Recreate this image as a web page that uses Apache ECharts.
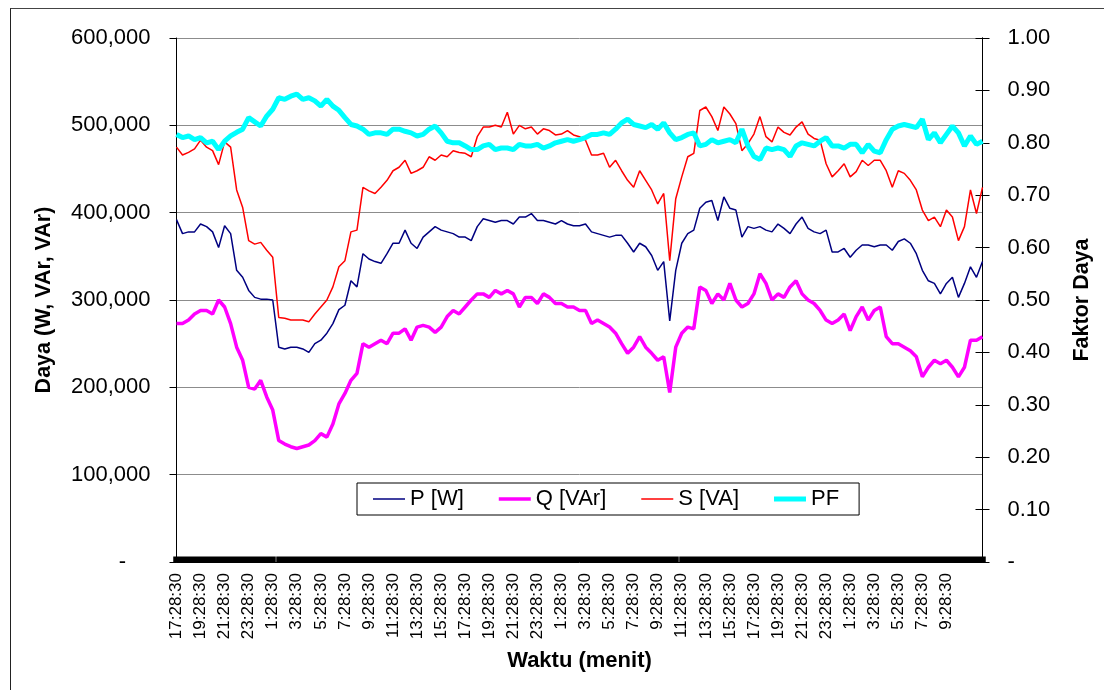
<!DOCTYPE html>
<html>
<head>
<meta charset="utf-8">
<script src="https://cdn.jsdelivr.net/npm/echarts@6/dist/echarts.min.js"></script>
<style>
  html, body { margin: 0; padding: 0; background: #fff; }
  #chart { width: 1105px; height: 690px; }
  #frame { position: absolute; left: 10px; top: 8px; width: 1093px; height: 700px;
           border-left: 1px solid #222; border-top: 1px solid #444; pointer-events: none; }
</style>
</head>
<body>
<div id="chart"></div>
<div id="frame"></div>
<script>
// Time stamps: every 30 minutes starting 17:28:30
const startTime = '17:28:30';
const sampleCount = 135;
const stepMinutes = 30;

// P [W]
const pValues = [
  392000,376000,378000,378000,387000,384000,378000,360000,385000,376000,
  334000,326000,311000,303000,301000,301000,300000,246000,244000,246000,
  246000,244000,240000,250000,254000,262000,273000,289000,
  294000,322000,315000,353000,347000,344000,342000,353000,365000,365000,
  380000,365000,359000,372000,378000,384000,380000,378000,376000,372000,
  372000,368000,384000,393000,391000,389000,391000,
  391000,387000,395000,395000,399000,391000,391000,389000,387000,391000,
  387000,385000,385000,387000,378000,376000,374000,372000,374000,374000,
  365000,355000,365000,361000,351000,334000,344000,
  276000,334000,365000,376000,380000,405000,412000,414000,391000,418000,
  405000,403000,372000,384000,382000,384000,380000,378000,387000,382000,
  376000,387000,395000,382000,378000,376000,380000,355000,
  355000,359000,349000,357000,363000,363000,361000,363000,363000,357000,
  367000,370000,365000,353000,334000,322000,319000,307000,319000,326000,
  303000,319000,338000,326000,344000
];

// Q [VAr]
const qValues = [
  273000,273000,277000,284000,288000,288000,284000,300000,292000,273000,
  246000,231000,200000,198000,208000,189000,174000,139000,135000,132000,
  130000,132000,134000,139000,147000,143000,158000,181000,
  193000,208000,216000,250000,246000,250000,254000,250000,262000,262000,
  267000,254000,269000,271000,269000,263000,269000,281000,288000,284000,
  292000,300000,307000,307000,303000,311000,307000,
  311000,307000,292000,303000,303000,296000,307000,303000,296000,296000,
  292000,292000,288000,288000,273000,277000,273000,269000,262000,250000,
  239000,246000,258000,246000,239000,231000,235000,
  194000,246000,262000,269000,267000,315000,311000,296000,307000,300000,
  319000,300000,292000,296000,307000,330000,319000,300000,307000,303000,
  315000,322000,307000,300000,296000,288000,277000,273000,
  277000,284000,265000,281000,292000,277000,288000,292000,258000,250000,
  250000,246000,242000,235000,212000,223000,231000,227000,231000,223000,
  212000,223000,254000,254000,258000
];

// S [VA]
const sValues = [
  475000,466000,469000,473000,483000,475000,471000,455000,481000,475000,
  426000,406000,368000,364000,366000,357000,349000,280000,279000,277000,
  277000,277000,275000,284000,292000,300000,315000,338000,
  345000,378000,380000,429000,425000,422000,429000,437000,448000,452000,
  460000,445000,448000,452000,464000,460000,466000,464000,471000,469000,
  468000,464000,487000,498000,498000,500000,498000,
  515000,490000,500000,496000,498000,490000,496000,494000,489000,490000,
  494000,489000,487000,483000,466000,466000,468000,452000,460000,448000,
  437000,429000,448000,437000,426000,410000,422000,
  345000,416000,441000,464000,468000,517000,521000,510000,494000,521000,
  513000,502000,471000,479000,490000,510000,487000,481000,498000,492000,
  489000,498000,504000,490000,485000,483000,456000,441000,
  448000,456000,441000,447000,460000,454000,460000,460000,448000,429000,
  448000,445000,437000,426000,403000,391000,395000,384000,403000,395000,
  368000,384000,426000,399000,429000
];

// PF
const pfValues = [
  0.816,0.81,0.813,0.806,0.81,0.80,0.803,0.787,0.803,0.813,
  0.82,0.826,0.848,0.84,0.832,0.851,0.864,0.886,0.883,0.889,
  0.893,0.883,0.886,0.88,0.87,0.883,0.87,0.862,
  0.848,0.835,0.832,0.826,0.816,0.819,0.819,0.816,0.826,0.826,
  0.822,0.819,0.813,0.816,0.826,0.832,0.819,0.803,0.80,0.80,
  0.794,0.787,0.787,0.794,0.797,0.787,0.79,
  0.79,0.787,0.797,0.794,0.794,0.797,0.79,0.794,0.80,0.803,
  0.806,0.803,0.806,0.81,0.816,0.816,0.819,0.816,0.826,0.838,
  0.845,0.835,0.832,0.829,0.835,0.826,0.838,
  0.819,0.806,0.81,0.816,0.819,0.794,0.797,0.806,0.80,0.803,
  0.806,0.80,0.826,0.794,0.774,0.768,0.79,0.787,0.79,0.787,
  0.774,0.794,0.80,0.797,0.794,0.803,0.81,0.794,
  0.794,0.79,0.797,0.797,0.781,0.797,0.784,0.781,0.806,0.826,
  0.832,0.835,0.832,0.829,0.845,0.806,0.819,0.80,0.816,0.832,
  0.819,0.794,0.813,0.797,0.803
];

const seriesNames = ['P [W]', 'Q [VAr]', 'S [VA]', 'PF'];
const seriesColors = ['#000080', '#FF00FF', '#FF0000', '#00FFFF'];
const seriesWidths = [1.5, 3.5, 1.5, 5];
const labelEvery = 4;       // a label every 2 hours
const lastLabelIndex = 128; // last printed label (9:28:30)

// build category time strings
const categories = [];
(function () {
  const parts = startTime.split(':').map(Number);
  const base = parts[0] * 60 + parts[1];
  for (let k = 0; k < sampleCount; k++) {
    const m = (base + k * stepMinutes) % (24 * 60);
    const h = Math.floor(m / 60), mm = m % 60;
    categories.push(h + ':' + String(mm).padStart(2, '0') + ':' + String(parts[2]).padStart(2, '0'));
  }
})();

const FONT = "'Liberation Sans', Arial, sans-serif";
const chart = echarts.init(document.getElementById('chart'), null, { renderer: 'canvas' });

// legend icon: plain horizontal bar with the series line thickness
function barIcon(w) { return 'path://M0,0H32V' + w + 'H0Z'; }

chart.setOption({
  animation: false,
  backgroundColor: '#fff',
  textStyle: { fontFamily: FONT, color: '#000' },
  grid: { left: 176.5, right: 122.5, top: 38, bottom: 128, containLabel: false },
  legend: {
    data: seriesNames.map(function (n, i) {
      return { name: n, icon: barIcon(seriesWidths[i]), itemStyle: { color: seriesColors[i] } };
    }),
    left: 357, top: 483,
    orient: 'horizontal',
    borderColor: '#000', borderWidth: 1,
    padding: [5, 20, 5, 16],
    itemWidth: 32, itemHeight: 14, itemGap: 35,
    symbolKeepAspect: true,
    textStyle: { fontSize: 22, fontFamily: FONT, color: '#000' },
    backgroundColor: '#fff'
  },
  xAxis: {
    type: 'category',
    data: categories,
    boundaryGap: false,
    name: 'Waktu (menit)',
    nameLocation: 'middle',
    nameGap: 88,
    nameTextStyle: { fontSize: 22, fontWeight: 'bold', fontFamily: FONT, color: '#000' },
    axisLine: { show: true, lineStyle: { color: '#000', width: 1 } },
    axisTick: { show: true, inside: true, length: 5.5, interval: 0, lineStyle: { color: '#000', width: 6.5 } },
    axisLabel: {
      rotate: 90, fontSize: 17, fontFamily: FONT, color: '#000', margin: 11,
      interval: function (idx) { return idx % labelEvery === 0 && idx <= lastLabelIndex; }
    },
    splitLine: { show: false }
  },
  yAxis: [
    {
      type: 'value', min: 0, max: 600000, interval: 100000, position: 'left',
      name: 'Daya (W, VAr, VAr)', nameLocation: 'middle', nameGap: 121, nameRotate: 90,
      nameTextStyle: { fontSize: 21.5, fontWeight: 'bold', fontFamily: FONT, color: '#000' },
      axisLine: { show: true, lineStyle: { color: '#000', width: 1 } },
      axisTick: { show: true, length: 7, lineStyle: { color: '#000' } },
      axisLabel: {
        fontSize: 22, fontFamily: FONT, color: '#000', margin: 26,
        formatter: function (v) { return v === 0 ? '-    ' : v.toLocaleString('en-US'); }
      },
      splitLine: { show: true, lineStyle: { color: '#8c8c8c', width: 1 } }
    },
    {
      type: 'value', min: 0, max: 1, interval: 0.1, position: 'right',
      name: 'Faktor Daya', nameLocation: 'middle', nameGap: 89, nameRotate: 90,
      nameTextStyle: { fontSize: 21.5, fontWeight: 'bold', fontFamily: FONT, color: '#000' },
      axisLine: { show: true, lineStyle: { color: '#000', width: 1 } },
      axisTick: { show: true, length: 7, lineStyle: { color: '#000' } },
      axisLabel: {
        fontSize: 22, fontFamily: FONT, color: '#000', margin: 25,
        formatter: function (v) { return v === 0 ? '-' : v.toFixed(2); }
      },
      splitLine: { show: false }
    },
    {
      type: 'value', min: 0, max: 1, interval: 0.1, position: 'right', offset: 0,
      axisLine: { show: true, lineStyle: { color: '#000', width: 1 } },
      axisTick: { show: true, inside: true, length: 7, lineStyle: { color: '#000' } },
      axisLabel: { show: false },
      splitLine: { show: false }
    }
  ],
  series: [
    { name: seriesNames[0], type: 'line', data: pValues, yAxisIndex: 0, symbol: 'none', showSymbol: false,
      lineStyle: { color: seriesColors[0], width: seriesWidths[0] }, itemStyle: { color: seriesColors[0] } },
    { name: seriesNames[1], type: 'line', data: qValues, yAxisIndex: 0, symbol: 'none', showSymbol: false,
      lineStyle: { color: seriesColors[1], width: seriesWidths[1] }, itemStyle: { color: seriesColors[1] } },
    { name: seriesNames[2], type: 'line', data: sValues, yAxisIndex: 0, symbol: 'none', showSymbol: false,
      lineStyle: { color: seriesColors[2], width: seriesWidths[2] }, itemStyle: { color: seriesColors[2] } },
    { name: seriesNames[3], type: 'line', data: pfValues, yAxisIndex: 1, symbol: 'none', showSymbol: false,
      lineStyle: { color: seriesColors[3], width: seriesWidths[3] }, itemStyle: { color: seriesColors[3] } }
  ]
});
</script>
</body>
</html>
